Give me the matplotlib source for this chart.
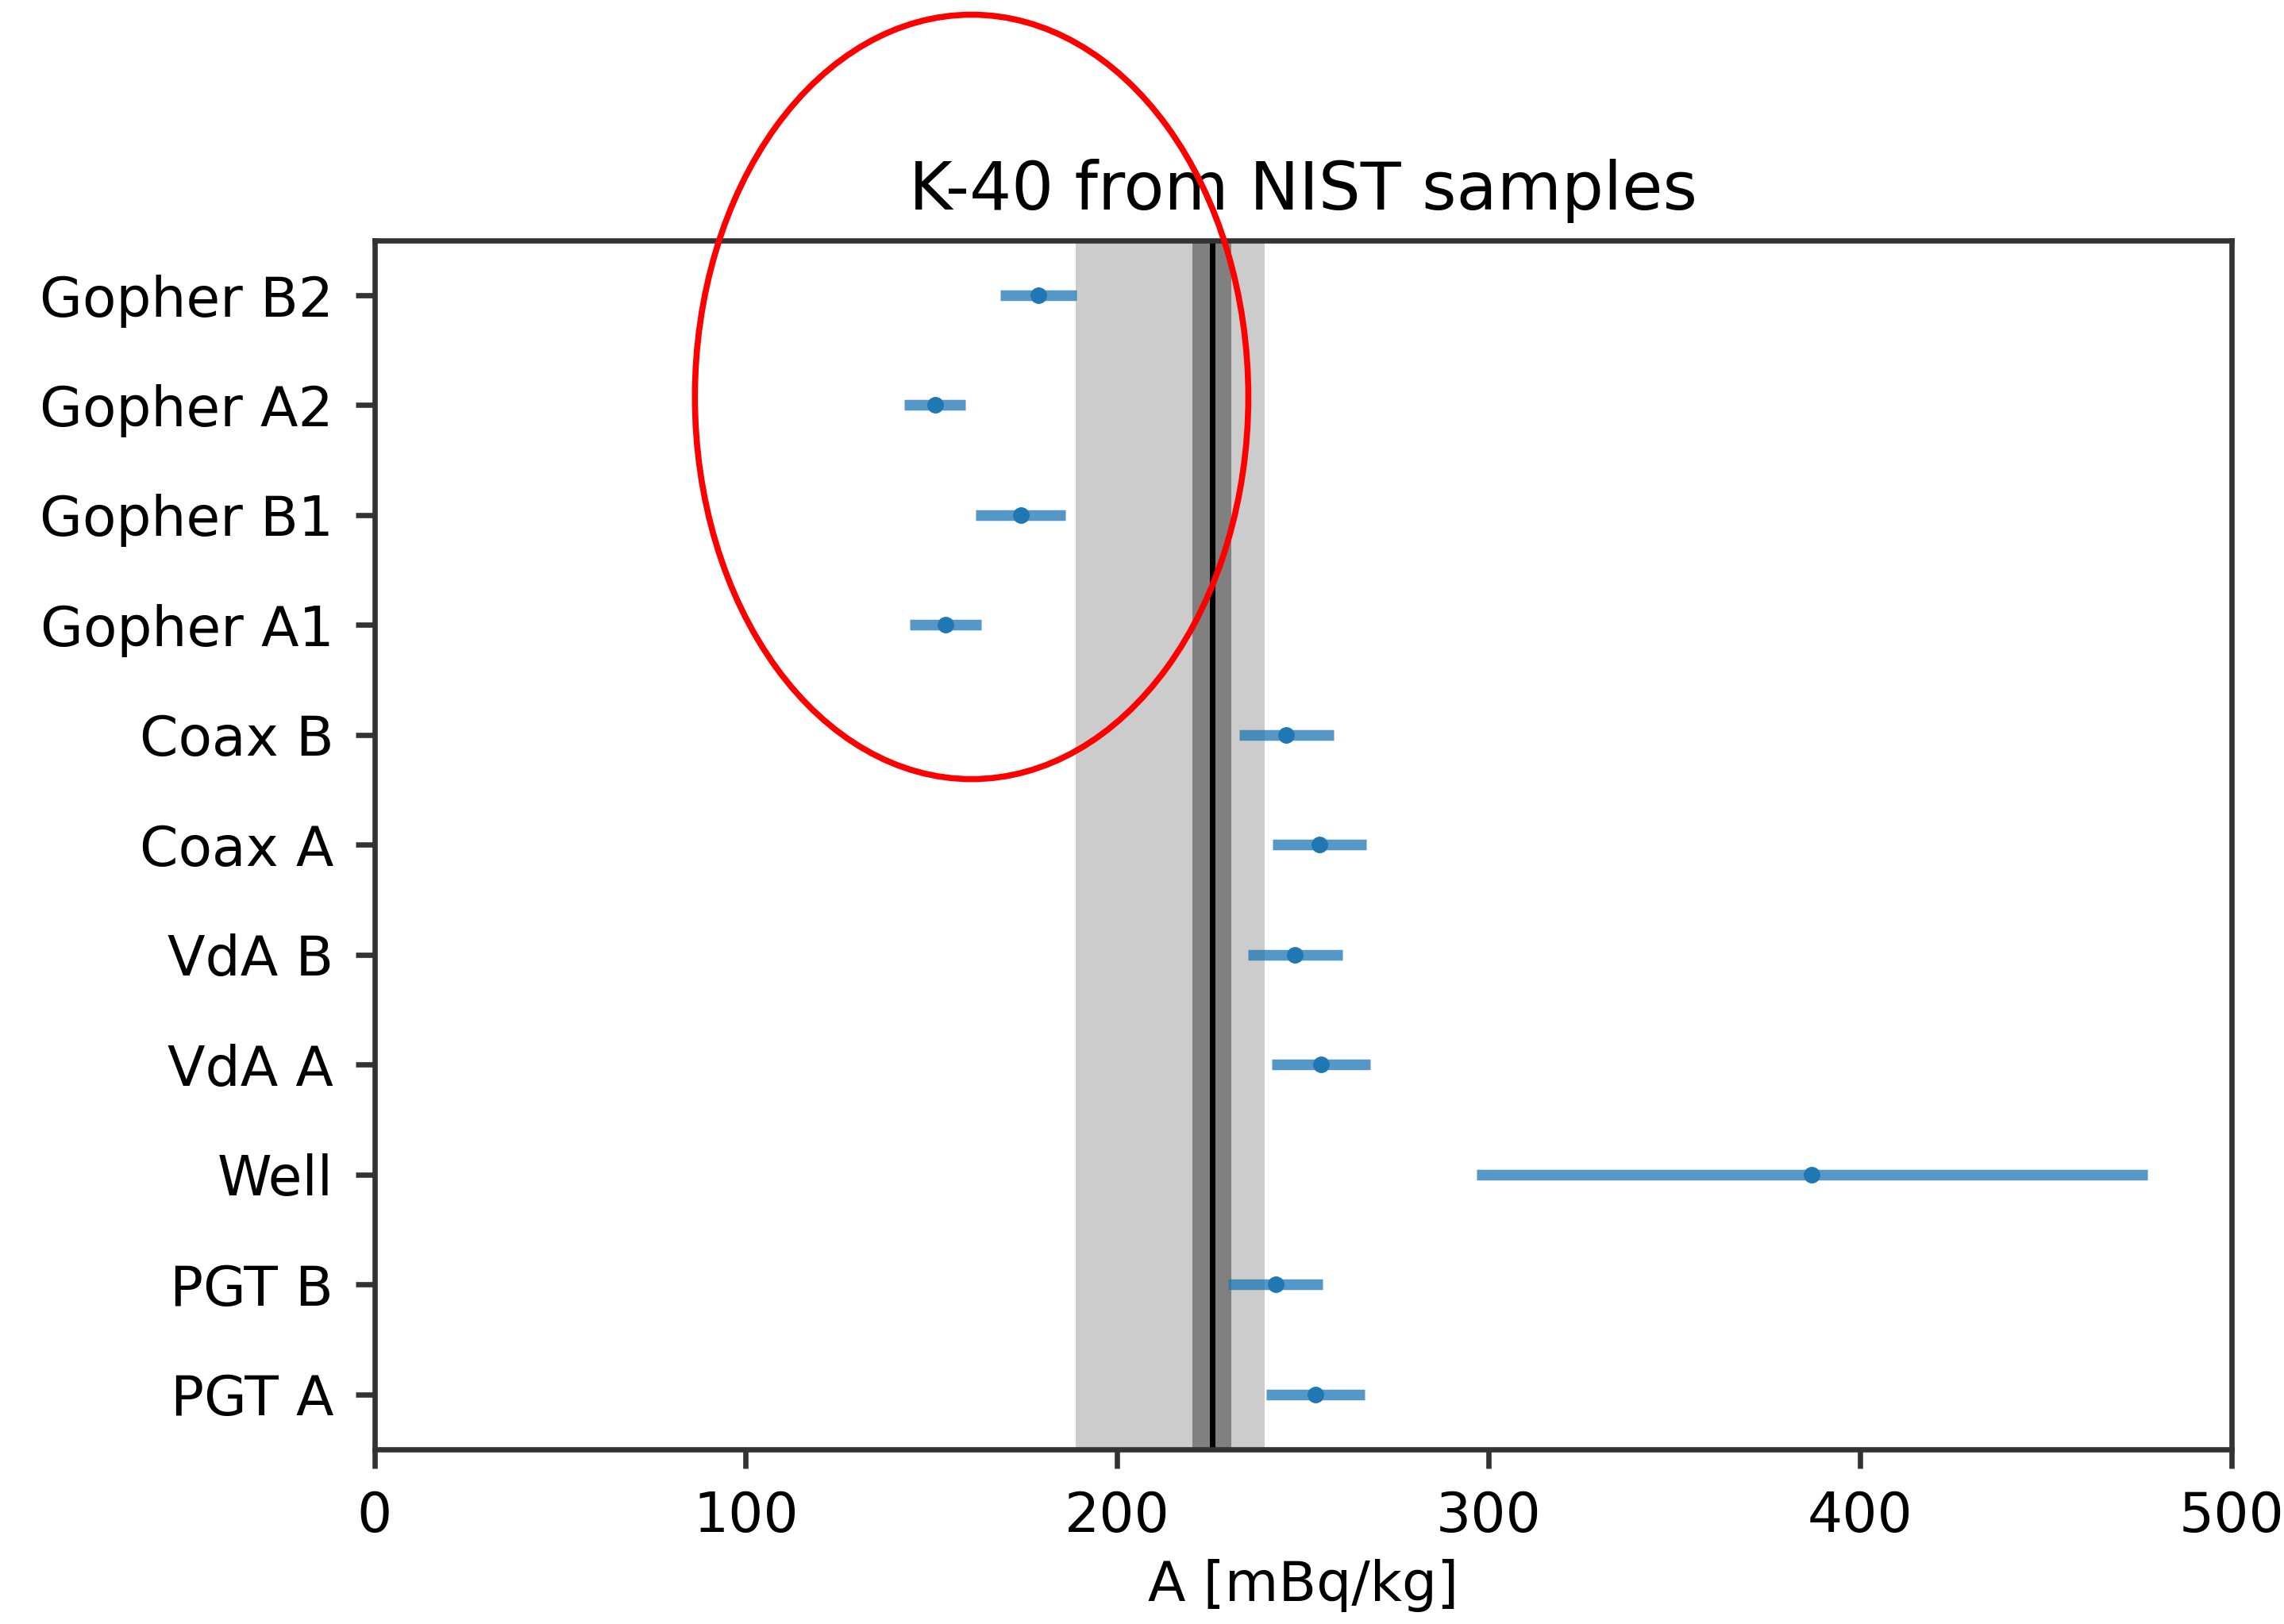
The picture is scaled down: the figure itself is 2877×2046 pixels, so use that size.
import matplotlib

matplotlib.use("Agg")
import matplotlib.pyplot as plt
import numpy as np
from matplotlib.patches import Ellipse

# samples, listed bottom to top
labels = ["PGT A", "PGT B", "Well", "VdA A", "VdA B", "Coax A", "Coax B",
          "Gopher A1", "Gopher B1", "Gopher A2", "Gopher B2"]
activity = [253.4, 242.6, 387.0, 254.9, 247.9, 254.5, 245.5,
            153.8, 174.0, 150.9, 178.8]
activity_err = [13.2, 12.7, 90.3, 13.3, 12.7, 12.6, 12.7,
                9.6, 12.0, 8.2, 10.3]

# reference value with its bands
ref_mean = 225.5
ref_inner = (220.3, 230.7)
ref_outer = (188.9, 239.7)

plt.rcParams["font.family"] = "DejaVu Sans"

fig = plt.figure(figsize=(28.77, 20.46), dpi=100)
ax = fig.add_axes([0.1639, 0.1076, 0.977 - 0.1639, 0.852 - 0.1076])

y = np.arange(len(labels))
ax.axvspan(*ref_outer, color="#cccccc", lw=0, zorder=0)
ax.axvspan(*ref_inner, color="#808080", lw=0, zorder=0)
ax.axvline(ref_mean, color="black", lw=5, zorder=1)

ax.errorbar(activity, y, xerr=activity_err, fmt="none", ecolor="#1f77b4",
            elinewidth=9.7, alpha=0.76, zorder=2)
ax.plot(activity, y, ".", color="#1f77b4", markersize=28, zorder=3)

ax.set_xlim(0, 500)
ax.set_ylim(-0.5, len(labels) - 0.5)
ax.set_yticks(y)
ax.set_yticklabels(labels)
ax.set_xticks([0, 100, 200, 300, 400, 500])
ax.tick_params(labelsize=50, length=17, width=4.8, color="#333333", pad=20)
for sp in ax.spines.values():
    sp.set_linewidth(4.8)
    sp.set_color("#333333")

ax.set_title("K-40 from NIST samples", fontsize=60, pad=28)
ax.set_xlabel("A [mBq/kg]", fontsize=50, labelpad=14)

# hand-drawn style highlight around the Gopher samples
fig.add_artist(Ellipse((0.4254, 0.7556), 0.2423, 0.4707,
                       transform=fig.transFigure, fill=False,
                       edgecolor="red", lw=5.5, zorder=10))

fig.savefig("out.png", dpi=100)
